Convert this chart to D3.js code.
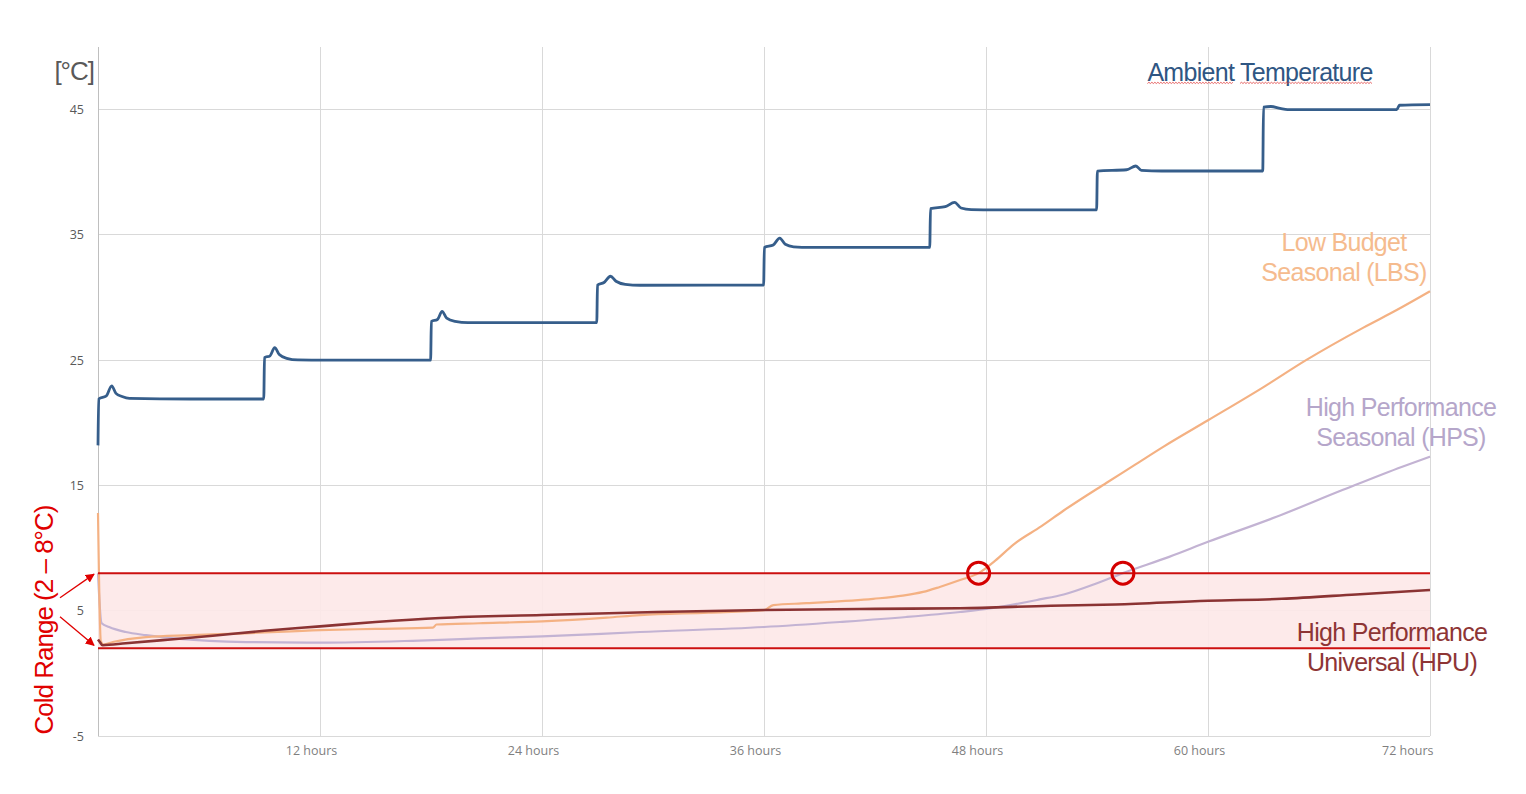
<!DOCTYPE html>
<html>
<head>
<meta charset="utf-8">
<script src="https://cdn.jsdelivr.net/npm/d3@7"></script>
<style>
  html, body { margin: 0; padding: 0; background: #fff; }
  svg { display: block; }
  text { font-family: "Liberation Sans", Arial, sans-serif; }
  .tick text { font-family: "Open Sans", sans-serif; font-size: 12.5px; }
</style>
</head>
<body>
<svg id="chart" width="1526" height="794"></svg>
<script>
// [hour, °C] readings
const ambient = [
  [0, 18.2], [0.04, 21.9], [0.45, 22.15], [0.74, 22.95], [0.97, 22.35], [1.3, 22.1], [1.7, 21.95], [5, 21.9], [8.96, 21.9],
  [9.0, 25.2], [9.3, 25.35], [9.55, 26.0], [9.8, 25.45], [10.2, 25.15], [10.8, 25.02], [14, 25.0], [17.98, 25.0],
  [18.02, 28.1], [18.35, 28.25], [18.6, 28.9], [18.85, 28.35], [19.3, 28.1], [20, 28.0], [26.96, 28.0],
  [27.0, 31.0], [27.35, 31.2], [27.7, 31.7], [28.0, 31.3], [28.5, 31.05], [29.3, 30.98], [35.98, 31.0],
  [36.02, 34.0], [36.5, 34.2], [36.85, 34.75], [37.15, 34.25], [37.6, 34.05], [38.5, 34.0], [44.96, 34.0],
  [45.0, 37.1], [45.8, 37.25], [46.3, 37.6], [46.65, 37.15], [47.2, 37.02], [48.5, 37.0], [53.98, 37.0],
  [54.02, 40.1], [55.6, 40.2], [56.1, 40.5], [56.4, 40.15], [57.5, 40.1], [62.96, 40.1],
  [63.0, 45.2], [63.4, 45.25], [63.9, 45.1], [64.3, 45.0], [70.2, 45.0], [70.35, 45.35], [72, 45.4]
];

const lbs = [
  [0, 12.8], [0.05, 8], [0.15, 2.6], [0.3, 2.3], [0.8, 2.5], [2.6, 2.9], [5, 3.05], [8, 3.2], [12, 3.45],
  [15, 3.55], [18.1, 3.65], [18.3, 3.9], [20.6, 4.0], [24, 4.15], [27.5, 4.45], [29.3, 4.65], [33, 4.85],
  [36, 5.05], [36.5, 5.45], [38.3, 5.6], [41.9, 5.95], [43.5, 6.2], [44.6, 6.5], [45.5, 6.9], [46.6, 7.45],
  [47.6, 8.0], [48.5, 9.0], [49.5, 10.3], [51, 11.75], [52.2, 13.0], [54.5, 15.2], [56, 16.6], [57.6, 18.1],
  [60, 20.2], [63, 22.85], [65.3, 25.0], [68.4, 27.6], [70.2, 29.0], [72, 30.5]
];

const hps = [
  [0, 8.0], [0.05, 6.5], [0.2, 4.0], [0.6, 3.7], [1.5, 3.3], [2.6, 3.05], [4.4, 2.75], [8, 2.5], [12, 2.45],
  [17, 2.6], [18.5, 2.67], [20.6, 2.8], [24, 2.95], [29.3, 3.3], [36, 3.7], [40.1, 4.1], [43.7, 4.5],
  [46.6, 4.9], [48.3, 5.2], [50.9, 5.9], [52.2, 6.3], [54, 7.2], [55.4, 8.0], [57.9, 9.3], [60, 10.5],
  [63.7, 12.5], [67.3, 14.65], [70.5, 16.5], [72, 17.3]
];

const hpu = [
  [0, 2.7], [0.1, 2.5], [0.25, 2.25], [1.5, 2.4], [3.5, 2.65], [6.2, 3.0], [9, 3.4], [12, 3.75], [15, 4.1],
  [18.5, 4.42], [24, 4.66], [30.2, 4.9], [36, 5.06], [42, 5.15], [46.6, 5.2], [51.5, 5.4], [55, 5.5],
  [60, 5.8], [64, 5.95], [68, 6.3], [72, 6.66]
];

const yTicks = [-5, 5, 15, 25, 35, 45];
const xTicks = [12, 24, 36, 48, 60, 72];
const coldRange = [2, 8];
const exceedances = [[47.6, 8], [55.4, 8]];

const svg = d3.select('#chart');

const x = d3.scaleLinear().domain([0, 72]).range([98, 1430]);
const y = d3.scaleLinear().domain([-5, 50]).range([736, 47]);

// grid
const grid = svg.append('g').attr('shape-rendering', 'crispEdges');
grid.selectAll('line.h').data(yTicks).enter().append('line')
  .attr('x1', x(0)).attr('x2', x(72))
  .attr('y1', d => y(d)).attr('y2', d => y(d))
  .attr('stroke', '#d9d9d9');
grid.selectAll('line.v').data(xTicks).enter().append('line')
  .attr('x1', d => x(d)).attr('x2', d => x(d))
  .attr('y1', y(50)).attr('y2', y(-5))
  .attr('stroke', '#d9d9d9');
grid.append('line')
  .attr('x1', x(0)).attr('x2', x(0))
  .attr('y1', y(50)).attr('y2', y(-5))
  .attr('stroke', '#bfbfbf');

// cold range band
svg.append('rect')
  .attr('x', x(0)).attr('y', y(coldRange[1]))
  .attr('width', x(72) - x(0)).attr('height', y(coldRange[0]) - y(coldRange[1]))
  .attr('fill', '#fde8e8').attr('opacity', 0.9);

// axes
const yAxis = svg.append('g')
  .attr('transform', `translate(${x(0)},0)`)
  .call(d3.axisLeft(y).tickValues(yTicks).tickSize(0).tickPadding(14).tickFormat(d => String(d)));
yAxis.select('.domain').remove();
yAxis.selectAll('text').attr('fill', '#595959');

const xAxis = svg.append('g')
  .attr('transform', `translate(0,${y(-5)})`)
  .call(d3.axisBottom(x).tickValues(xTicks).tickSize(0).tickPadding(10).tickFormat(d => d + ' hours'));
xAxis.select('.domain').remove();
xAxis.selectAll('text')
  .attr('fill', '#7f7f7f')
  .attr('dx', d => d === 72 ? 3 : -9)
  .attr('text-anchor', d => d === 72 ? 'end' : 'middle');

// series
const line = d3.line()
  .x(d => x(d[0]))
  .y(d => y(d[1]))
  .curve(d3.curveMonotoneX);

const series = [
  { data: hps, color: '#c3b3d3', width: 2.2 },
  { data: lbs, color: '#f4b183', width: 2.2 },
  { data: hpu, color: '#8b3333', width: 2.6 },
  { data: ambient, color: '#365e8b', width: 2.8 }
];

svg.append('g').selectAll('path').data(series).enter().append('path')
  .attr('d', d => line(d.data))
  .attr('fill', 'none')
  .attr('stroke', d => d.color)
  .attr('stroke-width', d => d.width)
  .attr('stroke-linejoin', 'round');

// cold range borders
svg.append('g').selectAll('line').data(coldRange).enter().append('line')
  .attr('x1', x(0)).attr('x2', x(72))
  .attr('y1', d => y(d)).attr('y2', d => y(d))
  .attr('stroke', '#cc1010').attr('stroke-width', 2);

// exceedance circles
svg.append('g').selectAll('circle').data(exceedances).enter().append('circle')
  .attr('cx', d => x(d[0])).attr('cy', d => y(d[1]))
  .attr('r', 11)
  .attr('fill', 'none')
  .attr('stroke', '#d40000')
  .attr('stroke-width', 3);

// unit label
svg.append('text')
  .attr('x', 94).attr('y', 80)
  .attr('text-anchor', 'end')
  .style('font-size', '26px')
  .style('letter-spacing', '-1px')
  .attr('fill', '#595959')
  .text('[°C]');

// series labels
const labels = [
  { lines: ['Ambient Temperature'], x: 1260, y: 80.5, color: '#2f5683' },
  { lines: ['Low Budget', 'Seasonal (LBS)'], x: 1344, y: 251, color: '#f5bb8e' },
  { lines: ['High Performance', 'Seasonal (HPS)'], x: 1401, y: 416, color: '#b5a6ca' },
  { lines: ['High Performance', 'Universal (HPU)'], x: 1392, y: 641, color: '#8e3535' }
];

const labelText = svg.append('g').selectAll('text').data(labels).enter().append('text')
  .attr('text-anchor', 'middle')
  .attr('fill', d => d.color)
  .style('font-size', '25px')
  .style('letter-spacing', '-0.7px');

labelText.selectAll('tspan').data(d => d.lines.map((t, i) => ({ t, i, d }))).enter().append('tspan')
  .attr('x', o => o.d.x)
  .attr('y', o => o.d.y + o.i * 30)
  .text(o => o.t);

// spell-check squiggle under "Ambient Temperature"
const ambientNode = labelText.filter((d, i) => i === 0).select('tspan').node();
const words = [[0, 6], [8, 18]];
const squiggle = (x0, x1, yy) => {
  let p = `M${x0},${yy}`;
  let up = true;
  for (let xx = x0 + 1.5; xx <= x1; xx += 1.5) {
    p += `L${xx},${yy + (up ? -1.2 : 0)}`;
    up = !up;
  }
  return p;
};
svg.append('g').selectAll('path').data(words).enter().append('path')
  .attr('d', w => squiggle(
    ambientNode.getStartPositionOfChar(w[0]).x,
    ambientNode.getEndPositionOfChar(w[1]).x,
    83.5))
  .attr('fill', 'none')
  .attr('stroke', '#e04040')
  .attr('stroke-width', 0.8);

// cold range annotation
svg.append('defs').append('marker')
  .attr('id', 'arrow')
  .attr('viewBox', '0 0 10 10')
  .attr('refX', 9).attr('refY', 5)
  .attr('markerWidth', 7).attr('markerHeight', 7)
  .attr('orient', 'auto')
  .append('path')
  .attr('d', 'M0,0L10,5L0,10z')
  .attr('fill', '#e00000');

const arrows = [
  [60, y(5) - 13, x(0) - 4, y(coldRange[1]) + 1],
  [60, y(5) + 6, x(0) - 4, y(coldRange[0]) - 3]
];
svg.append('g').selectAll('line').data(arrows).enter().append('line')
  .attr('x1', d => d[0]).attr('y1', d => d[1])
  .attr('x2', d => d[2]).attr('y2', d => d[3])
  .attr('stroke', '#e00000')
  .attr('stroke-width', 1.3)
  .attr('marker-end', 'url(#arrow)');

svg.append('text')
  .attr('transform', 'translate(53,620) rotate(-90)')
  .attr('text-anchor', 'middle')
  .attr('fill', '#e00000')
  .style('font-size', '26px')
  .style('letter-spacing', '-1px')
  .text('Cold Range (2 – 8°C)');
</script>
</body>
</html>
